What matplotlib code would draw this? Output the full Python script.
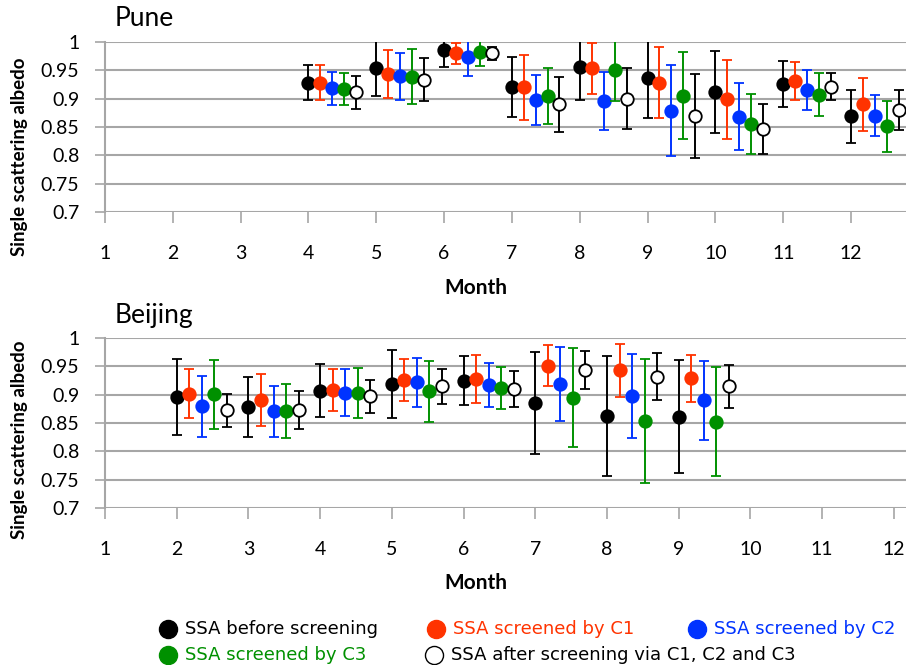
import matplotlib
matplotlib.use("Agg")
import matplotlib.pyplot as plt
from matplotlib.lines import Line2D
import numpy as np

# ---- data -----------------------------------------------------------------
months = list(range(1, 13))
series_names = [
    "SSA before screening",
    "SSA screened by C1",
    "SSA screened by C2",
    "SSA screened by C3",
    "SSA after screening via C1, C2 and C3",
]

pune_months = [4, 5, 6, 7, 8, 9, 10, 11, 12]
pune_before = [0.9285, 0.9535, 0.985, 0.920, 0.956, 0.937, 0.912, 0.9256, 0.869]
pune_before_sd = [0.0315, 0.0485, 0.029, 0.053, 0.058, 0.072, 0.0725, 0.041, 0.047]
pune_c1 = [0.9285, 0.944, 0.980, 0.920, 0.9535, 0.9285, 0.899, 0.931, 0.890]
pune_c1_sd = [0.0315, 0.042, 0.018, 0.057, 0.0445, 0.0635, 0.070, 0.0335, 0.047]
pune_c2 = [0.918, 0.9396, 0.973, 0.898, 0.896, 0.879, 0.868, 0.915, 0.870]
pune_c2_sd = [0.0295, 0.0415, 0.033, 0.0445, 0.0505, 0.080, 0.059, 0.035, 0.036]
pune_c3 = [0.917, 0.939, 0.982, 0.905, 0.950, 0.905, 0.855, 0.907, 0.851]
pune_c3_sd = [0.028, 0.048, 0.0235, 0.0495, 0.054, 0.0765, 0.053, 0.038, 0.0455]
pune_after = [0.911, 0.933, 0.980, 0.890, 0.900, 0.869, 0.846, 0.921, 0.880]
pune_after_sd = [0.0285, 0.038, 0.0115, 0.048, 0.054, 0.074, 0.044, 0.0235, 0.0355]

beijing_months = [2, 3, 4, 5, 6, 7, 8, 9]
beijing_before = [0.896, 0.879, 0.907, 0.918, 0.925, 0.885, 0.8625, 0.861]
beijing_before_sd = [0.067, 0.053, 0.0465, 0.060, 0.044, 0.0905, 0.106, 0.100]
beijing_c1 = [0.902, 0.891, 0.908, 0.926, 0.928, 0.9514, 0.9427, 0.9286]
beijing_c1_sd = [0.0435, 0.046, 0.037, 0.037, 0.0425, 0.0355, 0.046, 0.042]
beijing_c2 = [0.8795, 0.871, 0.903, 0.922, 0.917, 0.919, 0.8976, 0.890]
beijing_c2_sd = [0.0535, 0.045, 0.0415, 0.043, 0.039, 0.065, 0.074, 0.070]
beijing_c3 = [0.9006, 0.871, 0.903, 0.906, 0.912, 0.8947, 0.8543, 0.8526]
beijing_c3_sd = [0.0605, 0.047, 0.0445, 0.0535, 0.037, 0.0875, 0.1095, 0.097]
beijing_after = [0.8725, 0.873, 0.897, 0.9146, 0.9105, 0.9438, 0.932, 0.915]
beijing_after_sd = [0.0295, 0.034, 0.0285, 0.031, 0.032, 0.033, 0.041, 0.038]

y_ticks = [0.7, 0.75, 0.8, 0.85, 0.9, 0.95, 1.0]
y_tick_labels = ["0.7", "0.75", "0.8", "0.85", "0.9", "0.95", "1"]

# ---- style ----------------------------------------------------------------
FONT = "Lato"
LEG_FONT = ["DejaVu Sans"]
GRID = "#a6a6a6"
mk_face = ["black", "#ff3300", "#0033ff", "#009000", "white"]
bar_col = ["black", "#ff3300", "#0033ff", "#009000", "black"]
offsets = [0.0, 0.175, 0.35, 0.525, 0.70]

W, H = 906, 665
fig = plt.figure(figsize=(W / 100, H / 100), dpi=100)


def px_axes(left, top, right, bottom):
    return fig.add_axes([left / W, 1 - bottom / H, (right - left) / W, (bottom - top) / H])


def draw_panel(ax, title, xmax, mons, vals, sds, title_xy, ylab_y, xlab_y):
    ax.set_xlim(1, xmax)
    ax.set_ylim(0.7, 1.0)
    ax.set_yticks(y_ticks)
    ax.set_yticklabels(y_tick_labels, fontname=FONT, fontsize=14)
    ax.set_xticks(months)
    ax.set_xticklabels([str(m) for m in months], fontname=FONT, fontsize=14)
    ax.tick_params(axis="y", length=7, width=1.2, color=GRID, pad=11.5)
    ax.tick_params(axis="x", length=8, width=1.2, color=GRID, pad=16)
    ax.grid(axis="y", color=GRID, linewidth=1.5, zorder=0)
    for s in ("top", "right", "bottom"):
        ax.spines[s].set_visible(False)
    ax.spines["left"].set_color(GRID)
    ax.spines["left"].set_linewidth(1.5)
    ax.set_axisbelow(True)

    for i in range(5):
        x = np.array(mons, dtype=float) + offsets[i]
        ax.errorbar(x, vals[i], yerr=sds[i], fmt="o", ms=9.0,
                    mfc=mk_face[i], mec="black" if i in (0, 4) else mk_face[i],
                    mew=1.3, ecolor=bar_col[i], elinewidth=1.4, capsize=3.6,
                    capthick=1.4, zorder=3 + i, clip_on=True)

    fig.text(title_xy[0] / W, 1 - title_xy[1] / H, title, fontname=FONT,
             fontsize=19, ha="left", va="center")
    fig.text(20 / W, 1 - ylab_y / H, "Single scattering albedo", fontname=FONT,
             fontsize=13.5, fontweight="bold", rotation=90, ha="center", va="center")
    fig.text(476 / W, 1 - xlab_y / H, "Month", fontname=FONT, fontsize=15,
             fontweight="bold", ha="center", va="center")


ax1 = px_axes(105, 42, W, 212)
draw_panel(ax1, "Pune", 12.81, pune_months,
           [pune_before, pune_c1, pune_c2, pune_c3, pune_after],
           [pune_before_sd, pune_c1_sd, pune_c2_sd, pune_c3_sd, pune_after_sd],
           (115, 19), 157, 288)

ax2 = px_axes(105, 338, W, 508)
draw_panel(ax2, "Beijing", 12.17, beijing_months,
           [beijing_before, beijing_c1, beijing_c2, beijing_c3, beijing_after],
           [beijing_before_sd, beijing_c1_sd, beijing_c2_sd, beijing_c3_sd, beijing_after_sd],
           (115, 316), 440, 583)

# ---- legend -------------------------------------------------------------
legend_pos = [(168, 629), (436, 629), (697, 629), (168, 655), (434, 655)]
legend_txt_col = ["black", "#ff3300", "#0033ff", "#009000", "black"]
for i, (lx, ly) in enumerate(legend_pos):
    fig.add_artist(Line2D([lx / W], [1 - ly / H], marker="o", ms=13,
                          mfc=mk_face[i], mec="black" if i in (0, 4) else mk_face[i],
                          mew=1.0, linestyle="none", transform=fig.transFigure))
    fig.text((lx + 17) / W, 1 - ly / H, series_names[i], family=LEG_FONT,
             fontsize=13, color=legend_txt_col[i], ha="left", va="center")

fig.savefig("out.png", dpi=100)
